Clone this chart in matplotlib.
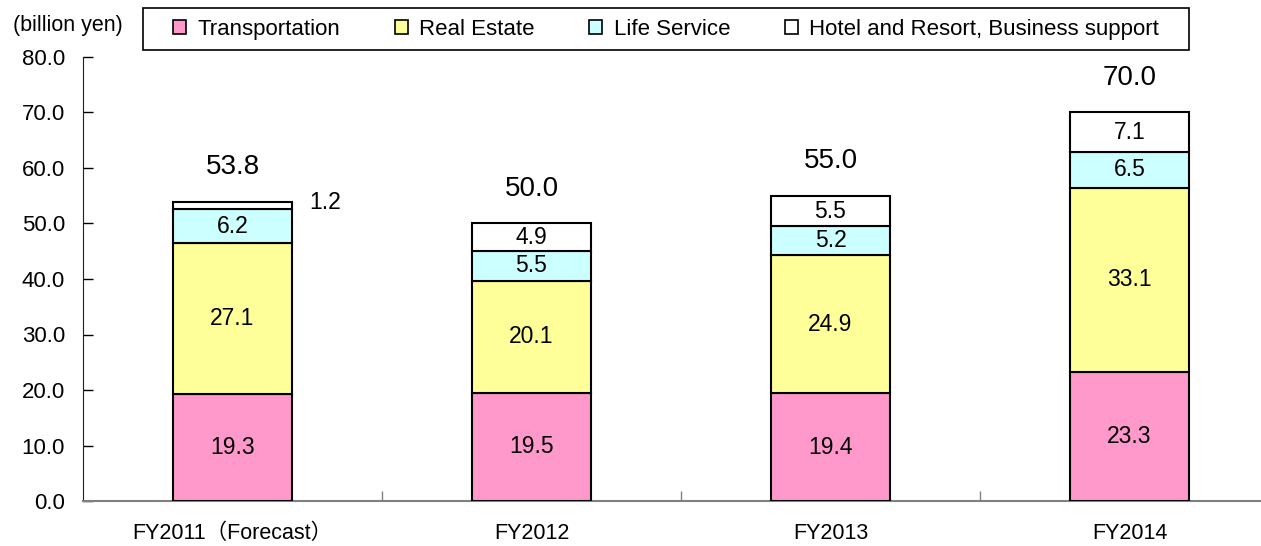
import matplotlib
matplotlib.use("Agg")
import matplotlib.pyplot as plt
import numpy as np
from matplotlib.patches import Rectangle
from matplotlib.ticker import MultipleLocator, FixedLocator

years = ["FY2011（Forecast）", "FY2012", "FY2013", "FY2014"]
transportation = [19.3, 19.5, 19.4, 23.3]
real_estate = [27.1, 20.1, 24.9, 33.1]
life_service = [6.2, 5.5, 5.2, 6.5]
hotel_business = [1.2, 4.9, 5.5, 7.1]
totals = [53.8, 50.0, 55.0, 70.0]
names = ["Transportation", "Real Estate", "Life Service",
         "Hotel and Resort, Business support"]
colors = ["#FF99CC", "#FFFF99", "#CCFFFF", "#FFFFFF"]

plt.rcParams['font.family'] = ['Liberation Sans', 'Noto Sans CJK JP']

W, H = 1261, 546
fig = plt.figure(figsize=(W/100, H/100), dpi=100)
ax = fig.add_axes([83/W, 45/H, 1196/W, 444/H])

xs = np.arange(len(years))
bottom = np.zeros(len(years))
segments = (transportation, real_estate, life_service, hotel_business)
for nr, vals in enumerate(segments):
    ax.bar(xs, vals, 0.4, bottom=bottom, color=colors[nr], edgecolor='black',
           linewidth=1.5, label=names[nr], zorder=3)
    for i, v in enumerate(vals):
        if v < 2:
            # too thin, label sits beside the bar
            ax.text(xs[i] + 0.31, bottom[i] + v, f"{v:.1f}", ha='center',
                    va='center', fontsize=16.5)
        else:
            ax.text(xs[i], bottom[i] + v/2, f"{v:.1f}", ha='center',
                    va='center', fontsize=16.5)
    bottom += np.array(vals)

for i, t in enumerate(totals):
    ax.text(xs[i], t + 6.3, f"{t:.1f}", ha='center', va='center', fontsize=20)

ax.set_xlim(-0.5, 3.5)
ax.set_ylim(0, 80)
ax.yaxis.set_major_locator(MultipleLocator(10))
ax.yaxis.set_major_formatter(matplotlib.ticker.FormatStrFormatter('%.1f'))
ax.tick_params(axis='y', direction='in', length=7, width=1, labelsize=16, pad=13)

ax.set_xticks(xs)
ax.set_xticklabels(years)
ax.xaxis.set_minor_locator(FixedLocator([0.5, 1.5, 2.5]))
ax.tick_params(axis='x', which='major', length=0, labelsize=15.5, pad=16)
ax.tick_params(axis='x', which='minor', direction='in', length=7, width=1,
               color='#808080')

ax.spines['top'].set_visible(False)
ax.spines['right'].set_visible(False)
ax.spines['bottom'].set_color('#808080')
ax.spines['bottom'].set_linewidth(1.5)
ax.spines['left'].set_color('#202020')

fig.text(13/W, 1 - 26/H, "(billion yen)", fontsize=15.5, va='center', ha='left')

leg = fig.legend(loc='center', bbox_to_anchor=(666/W, 1 - 29.5/H), ncol=4,
                 fontsize=16, frameon=False,
                 handlelength=0.6, handleheight=0.6, handletextpad=0.5,
                 columnspacing=2.45, borderpad=0, borderaxespad=0)
for h in leg.legend_handles:
    h.set_linewidth(1.2)

# legend box drawn separately, it has wide side padding
fig.patches.append(Rectangle((143/W, 1 - 50/H), 1046/W, 42/H,
                             transform=fig.transFigure, fill=False,
                             edgecolor='black', linewidth=1.2))

fig.savefig("out.png", dpi=100)
